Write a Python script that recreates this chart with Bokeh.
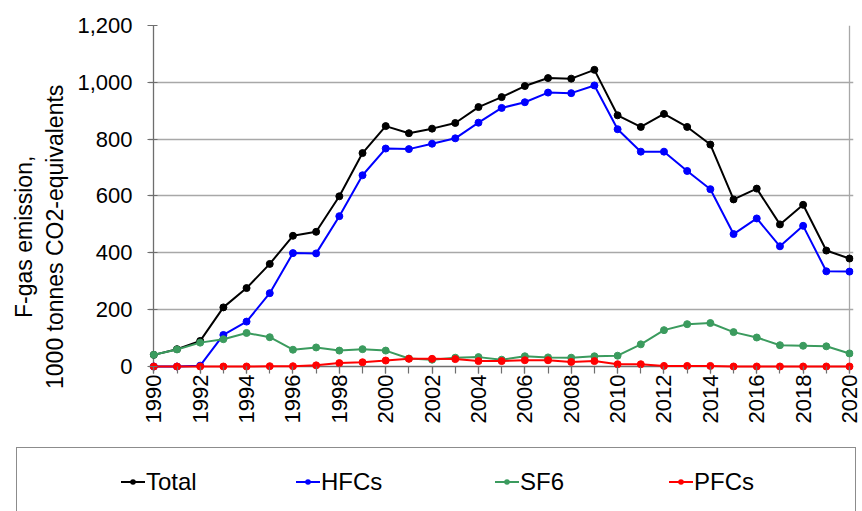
import math
from bokeh.plotting import figure
from bokeh.models import Range1d, FixedTicker, NumeralTickFormatter, Grid, Div
from bokeh.layouts import column
from bokeh.embed import file_html
from bokeh.resources import INLINE

years = list(range(1990, 2021))
total = [41, 61, 90, 208, 276, 361, 460, 474, 599, 751, 846, 821, 837, 857, 913,
         948, 987, 1015, 1013, 1044, 884, 843, 889, 843, 781, 588, 626, 500, 569, 408, 380]
hfcs = [0, 0, 3, 111, 158, 258, 399, 398, 529, 673, 767, 765, 784, 803, 858,
        910, 930, 964, 962, 989, 835, 756, 756, 688, 624, 466, 521, 423, 495, 335, 334]
sf6 = [41, 60, 84, 96, 118, 103, 59, 67, 56, 61, 56, 28, 24, 31, 33,
       24, 36, 32, 31, 36, 38, 78, 128, 149, 153, 121, 102, 75, 73, 71, 46]
pfcs = [0, 0, 0, 0, 0, 1, 1, 4, 12, 15, 21, 27, 27, 26, 19,
        19, 22, 22, 16, 19, 8, 8, 2, 2, 2, 0, 0, 0, 0, 0, 0]

series_names = ["Total", "HFCs", "SF6", "PFCs"]
series_values = [total, hfcs, sf6, pfcs]
series_colors = ["#000000", "#0000ff", "#3b9b5e", "#ff0000"]

y_ticks = [0, 200, 400, 600, 800, 1000, 1200]
x_label_ticks = list(range(1990, 2021, 2))
x_minor_ticks = list(range(1990, 2021))
y_title_1 = "F-gas emission,"
y_title_2 = "1000 tonnes CO2-equivalents"

FONT = "Liberation Sans"
AXIS_COLOR = "#6e6e6e"
GRID_COLOR = "#a8a8a8"
PAD = "\u00a0" * 12  # shifts the centred title toward the lower part, as in the original

p = figure(width=862, height=446,
           x_range=Range1d(1989.771, 2020.172), y_range=Range1d(-17.6, 1200),
           output_backend="svg", toolbar_location=None,
           min_border_left=148, min_border_right=9, min_border_top=25, min_border_bottom=75)
p.outline_line_color = None

# grid lines and axis lines
p.xgrid.visible = False
p.ygrid.ticker = FixedTicker(ticks=y_ticks[1:])
p.ygrid.grid_line_color = GRID_COLOR
p.ygrid.grid_line_width = 1.3
p.ygrid.bounds = (1990, 2020)
p.add_layout(Grid(dimension=0, ticker=FixedTicker(ticks=[2020]), bounds=(0, 1200),
                  grid_line_color=GRID_COLOR, grid_line_width=1.3))
p.add_layout(Grid(dimension=0, ticker=FixedTicker(ticks=[1990]), bounds=(0, 1200),
                  grid_line_color=AXIS_COLOR, grid_line_width=1.3))
p.add_layout(Grid(dimension=1, ticker=FixedTicker(ticks=[0]), bounds=(1990, 2020),
                  grid_line_color=AXIS_COLOR, grid_line_width=1.3))

# y axis
yax = p.yaxis[0]
yax.ticker = FixedTicker(ticks=y_ticks)
yax.formatter = NumeralTickFormatter(format="0,0")
yax.axis_line_color = None
yax.major_tick_line_color = AXIS_COLOR
yax.major_tick_line_width = 1.2
yax.major_tick_out = 1
yax.major_tick_in = 9
yax.minor_tick_line_color = None
yax.major_label_standoff = 15
yax.major_label_text_font = FONT
yax.major_label_text_font_size = "22px"
yax.major_label_text_color = "#000000"
yax.axis_label = y_title_1 + PAD + "\n" + y_title_2 + PAD
yax.axis_label_standoff = 6
yax.axis_label_text_font = FONT
yax.axis_label_text_font_size = "23px"
yax.axis_label_text_font_style = "normal"
yax.axis_label_text_color = "#000000"
yax.axis_label_text_line_height = 1.2

# x axis
xax = p.xaxis[0]
xax.ticker = FixedTicker(ticks=x_label_ticks, minor_ticks=x_minor_ticks)
xax.axis_line_color = None
xax.major_tick_line_color = AXIS_COLOR
xax.minor_tick_line_color = AXIS_COLOR
xax.major_tick_line_width = 1.2
xax.minor_tick_line_width = 1.2
xax.major_tick_out = 2
xax.major_tick_in = 5
xax.minor_tick_out = 2
xax.minor_tick_in = 5
xax.major_label_orientation = math.pi / 2
xax.major_label_standoff = 1
xax.major_label_text_font = FONT
xax.major_label_text_font_size = "22px"
xax.major_label_text_color = "#000000"

for name, vals, col in zip(series_names, series_values, series_colors):
    p.line(years, vals, line_color=col, line_width=2)
    p.scatter(years, vals, marker="circle", size=7, fill_color=col, line_color=col)

# legend panel under the chart
legend_x = [121, 296, 495, 669]
item_html = []
for name, col, x in zip(series_names, series_colors, legend_x):
    item_html.append(
        f'<div style="position:absolute;left:{x}px;top:24px;height:24px;display:flex;'
        f'align-items:center;font-family:\'{FONT}\',sans-serif;font-size:24px;'
        f'line-height:24px;color:#000;white-space:nowrap;">'
        f'<svg width="24" height="24" style="display:block">'
        f'<line x1="0" y1="12" x2="24" y2="12" stroke="{col}" stroke-width="2"/>'
        f'<circle cx="12" cy="12" r="2.8" fill="{col}"/></svg>'
        f'<span style="margin-left:1px;">{name}</span></div>')
legend_html = (
    '<div style="position:relative;width:862px;height:65px;overflow:hidden;">'
    '<div style="position:absolute;left:16px;top:1px;width:840px;height:90px;'
    'border:1.5px solid #8c8c8c;box-sizing:border-box;"></div>'
    + "".join(item_html) + '</div>')
legend_div = Div(text=legend_html, width=862, height=65, margin=(0, 0, 0, 0),
                 styles={"overflow": "hidden"})

layout = column(p, legend_div, spacing=0)
open("out.html", "w").write(file_html(layout, INLINE))
